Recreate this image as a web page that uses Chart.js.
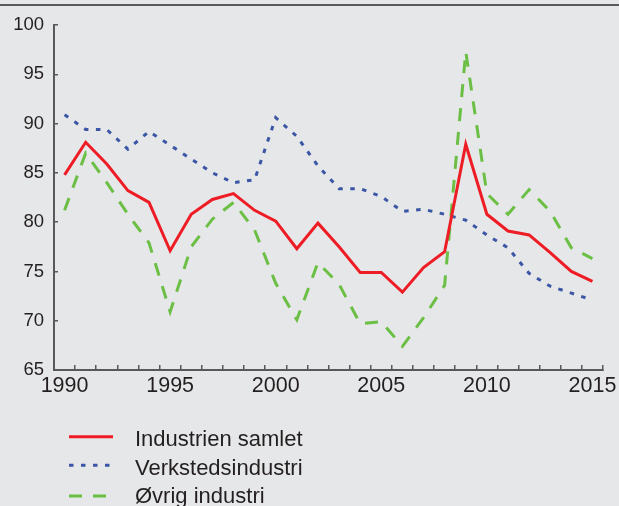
<!DOCTYPE html>
<html>
<head>
<meta charset="utf-8">
<script src="https://cdn.jsdelivr.net/npm/chart.js@4"></script>
<style>
  html, body { margin: 0; padding: 0; }
  body { width: 619px; height: 506px; background: #e6e7e8; position: relative; overflow: hidden;
         font-family: "Liberation Sans", Arial, sans-serif; color: #231f20; }
  #topline { position: absolute; left: 0; top: 4px; width: 619px; height: 2px; background: #58595b; }
  #c { position: absolute; left: 0; top: 0; }
  .lt { position: absolute; left: 135px; font-size: 22px; line-height: 22px; white-space: nowrap; }
  #legsvg { position: absolute; left: 0; top: 420px; }
</style>
</head>
<body>
<div id="topline"></div>
<canvas id="c" width="619" height="506"></canvas>
<svg id="legsvg" width="150" height="86"></svg>
<div id="legend"></div>
<script>
// ---- data ----
const years = ['1990','1991','1992','1993','1994','1995','1996','1997','1998','1999',
               '2000','2001','2002','2003','2004','2005','2006','2007','2008','2009',
               '2010','2011','2012','2013','2014','2015'];
const industrienSamlet = [84.8, 88.1, 85.9, 83.2, 82.0, 77.1, 80.8, 82.3, 82.9, 81.2,
                          80.1, 77.3, 79.9, 77.5, 74.9, 74.9, 72.9, 75.4, 77.0, 87.9,
                          80.8, 79.1, 78.7, 76.9, 75.0, 74.0];
const verkstedsindustri = [90.9, 89.4, 89.4, 87.4, 89.2, 87.8, 86.4, 85.0, 84.0, 84.3,
                           90.6, 88.7, 85.7, 83.4, 83.4, 82.6, 81.1, 81.3, 80.8, 80.2,
                           78.7, 77.4, 74.8, 73.5, 72.8, 72.1];
const ovrigIndustri = [81.2, 87.0, 84.0, 80.8, 77.9, 70.9, 77.5, 80.3, 82.0, 79.2,
                       73.8, 70.1, 75.9, 73.7, 69.7, 69.9, 67.4, 70.3, 73.6, 97.3,
                       82.9, 80.8, 83.3, 81.1, 77.4, 76.3];
const seriesNames = ['Industrien samlet', 'Verkstedsindustri', 'Øvrig industri'];
const yTicks = [65, 70, 75, 80, 85, 90, 95, 100];

// ---- styles ----
const FONT = '"Liberation Sans", Arial, sans-serif';
const AXIS = '#58595b';
const TEXT = '#231f20';
const styles = [
  { color: '#ee1c25', width: 3, dash: [] },
  { color: '#3a56a5', width: 3, dash: [4.5, 7.5] },
  { color: '#6cbf45', width: 3, dash: [13, 11] }
];
const seriesData = [industrienSamlet, verkstedsindustri, ovrigIndustri];

new Chart(document.getElementById('c'), {
  type: 'line',
  data: {
    labels: years,
    datasets: seriesData.map((d, i) => ({
      label: seriesNames[i],
      data: d,
      borderColor: styles[i].color,
      borderWidth: styles[i].width,
      borderDash: styles[i].dash,
      borderCapStyle: 'butt',
      borderJoinStyle: 'miter',
      pointRadius: 0,
      tension: 0,
      fill: false
    }))
  },
  options: {
    responsive: false,
    animation: false,
    devicePixelRatio: 1,
    layout: { padding: { left: 0, right: 16, top: 25, bottom: 0 } },
    plugins: { legend: { display: false }, tooltip: { enabled: false } },
    scales: {
      x: {
        type: 'category',
        offset: true,
        grid: { offset: true, drawOnChartArea: false, tickLength: -5, color: AXIS, lineWidth: 1.5 },
        border: { color: AXIS, width: 2 },
        ticks: {
          autoSkip: false, maxRotation: 0, minRotation: 0, padding: 10.5,
          color: TEXT, font: { family: FONT, size: 21.5, lineHeight: 1 },
          callback: (v, i) => (parseInt(years[i]) % 5 === 0 ? years[i] : '')
        },
        afterFit: s => { s.height = 506 - 370; s.paddingLeft = 0; s.paddingRight = 0; }
      },
      y: {
        min: 65, max: 100,
        afterBuildTicks: s => { s.ticks = yTicks.map(v => ({ value: v })); },
        grid: { drawOnChartArea: false, tickLength: -4, color: AXIS, lineWidth: 1.5 },
        border: { color: AXIS, width: 2 },
        ticks: { padding: 14, color: TEXT, font: { family: FONT, size: 18.5, lineHeight: 1 } },
        afterFit: s => { s.width = 54; }
      }
    }
  }
});

// ---- HTML legend ----
const legRows = [
  { lineY: 436.7, textTop: 428 },
  { lineY: 465.3, textTop: 456.5 },
  { lineY: 496, textTop: 484.8 }
];
const svg = document.getElementById('legsvg');
const legend = document.getElementById('legend');
const legLen = [44, 44, 37];
seriesNames.forEach((name, i) => {
  const ln = document.createElementNS('http://www.w3.org/2000/svg', 'line');
  ln.setAttribute('x1', 69); ln.setAttribute('x2', 69 + legLen[i]);
  ln.setAttribute('y1', legRows[i].lineY - 420); ln.setAttribute('y2', legRows[i].lineY - 420);
  ln.setAttribute('stroke', styles[i].color);
  ln.setAttribute('stroke-width', styles[i].width);
  if (styles[i].dash.length) ln.setAttribute('stroke-dasharray', styles[i].dash.join(' '));
  svg.appendChild(ln);
  const t = document.createElement('div');
  t.className = 'lt';
  t.style.top = legRows[i].textTop + 'px';
  t.textContent = name;
  legend.appendChild(t);
});
</script>
</body>
</html>
